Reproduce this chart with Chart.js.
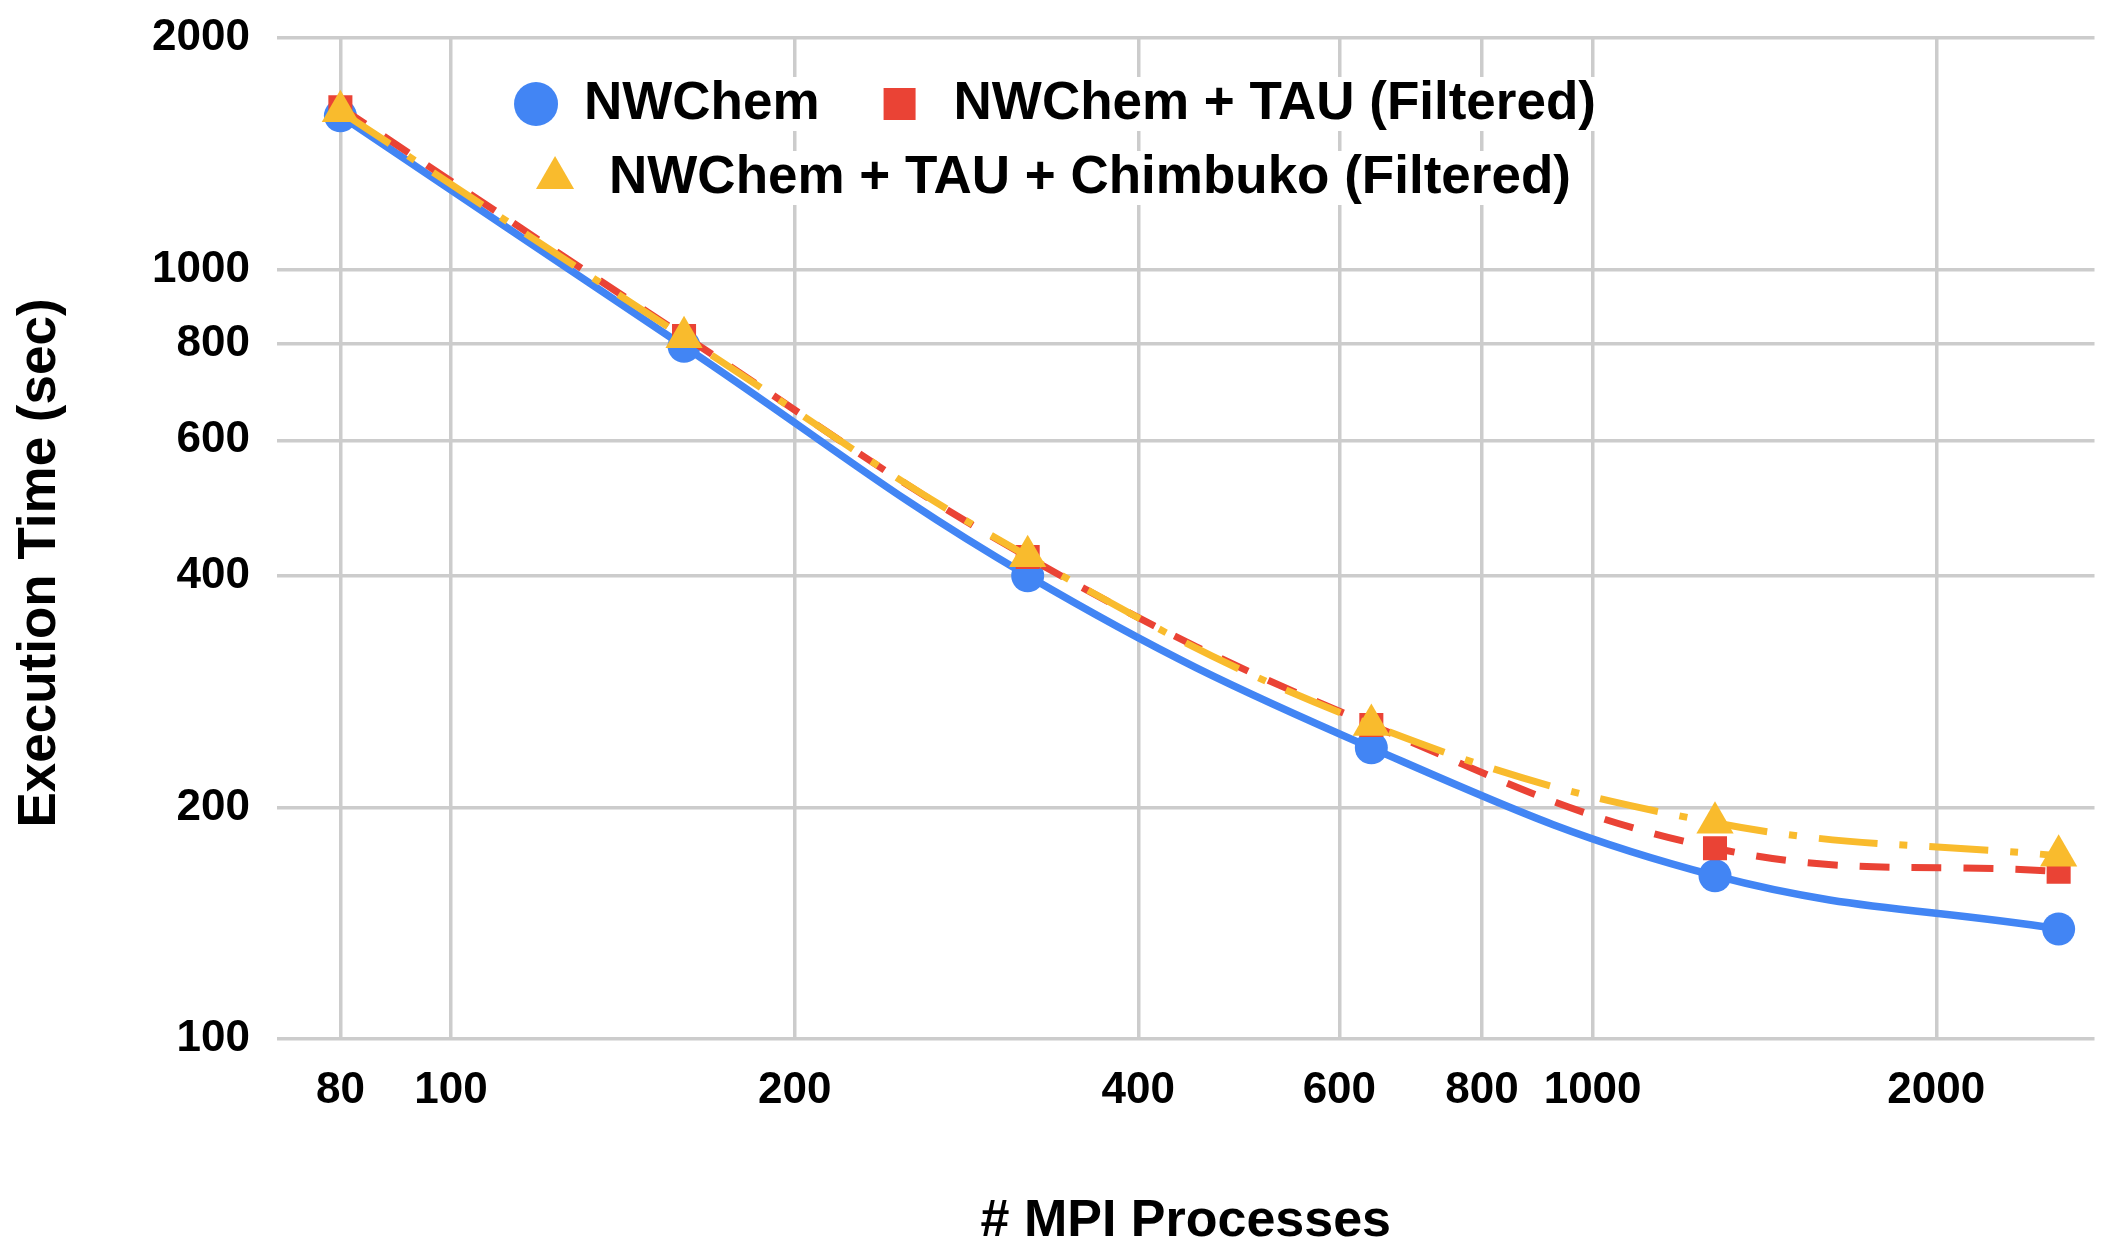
<!DOCTYPE html>
<html>
<head>
<meta charset="utf-8">
<script src="https://cdn.jsdelivr.net/npm/chart.js@4.4.0/dist/chart.umd.min.js"></script>
<style>
html,body{margin:0;padding:0;background:#ffffff;}
#wrap{width:2116px;height:1260px;position:relative;}
</style>
</head>
<body>
<div id="wrap"><canvas id="c"></canvas></div>
<script>
// ---- data ----
const processes = [80, 160, 320, 640, 1280, 2560];
const nwchem = [1585, 795, 400, 239, 163, 139];
const nwchemTau = [1625, 820, 423, 256, 177, 165];
const nwchemTauChimbuko = [1606, 817, 424, 256, 191, 173];
const seriesLabels = ['NWChem', 'NWChem + TAU (Filtered)', 'NWChem + TAU + Chimbuko (Filtered)'];
const xTickValues = [80, 100, 200, 400, 600, 800, 1000, 2000];
const yTickValues = [100, 200, 400, 600, 800, 1000, 2000];
const xTitle = '# MPI Processes';
const yTitle = 'Execution Time (sec)';

const BLUE = '#4285f4', RED = '#ea4335', YELLOW = '#f9bb2d';
const FONT = '"Liberation Sans", Arial, sans-serif';
Chart.defaults.font.family = FONT;
Chart.defaults.color = '#000';

const toPts = arr => processes.map((p, i) => ({x: p, y: arr[i]}));

const legendPlugin = {
  id: 'insideLegend',
  afterDraw(chart) {
    const ctx = chart.ctx;
    const ds = chart.data.datasets;
    const rows = [[0, 1], [2]];
    const rowY = [104, 178];
    const centerX = 1052;
    const box = 44, gap = 32, itemGap = 58;
    ctx.save();
    ctx.font = 'bold 53px ' + FONT;
    ctx.textBaseline = 'middle';
    ctx.textAlign = 'left';
    rows.forEach((row, ri) => {
      const widths = row.map(i => box + gap + ctx.measureText(ds[i].label).width);
      const total = widths.reduce((a, b) => a + b, 0) + itemGap * (row.length - 1);
      let x = centerX - total / 2;
      const y = rowY[ri];
      ctx.fillStyle = '#ffffff';
      ctx.fillRect(x + box, y - 27, total - box + 8, 54);
      row.forEach((i, k) => {
        const d = ds[i];
        const cx = x + box / 2;
        ctx.fillStyle = d.backgroundColor;
        ctx.beginPath();
        if (d.pointStyle === 'circle') {
          ctx.arc(cx + 6, y, 22, 0, Math.PI * 2);
        } else if (d.pointStyle === 'rect') {
          ctx.rect(cx - 16, y - 16, 32, 32);
        } else {
          const r = 22;
          ctx.moveTo(cx, y - r);
          ctx.lineTo(cx + r * Math.sin(2 * Math.PI / 3), y + r / 2);
          ctx.lineTo(cx - r * Math.sin(2 * Math.PI / 3), y + r / 2);
          ctx.closePath();
        }
        ctx.fill();
        ctx.fillStyle = '#000';
        ctx.fillText(d.label, x + box + gap, y);
        x += widths[k] + itemGap;
      });
    });
    ctx.restore();
  }
};

// y-axis title positioned like the reference (slightly below the plot centre)
const yTitlePlugin = {
  id: 'yTitle',
  afterDraw(chart) {
    const ctx = chart.ctx;
    ctx.save();
    ctx.font = 'bold 53px ' + FONT;
    ctx.fillStyle = '#000';
    ctx.textAlign = 'center';
    ctx.textBaseline = 'middle';
    ctx.translate(40, 563);
    ctx.rotate(-Math.PI / 2);
    ctx.fillText(yTitle, 0, 0);
    ctx.restore();
  }
};

const tickFont = {size: 44, weight: 'bold'};
const titleFont = {size: 52, weight: 'bold'};

new Chart(document.getElementById('c'), {
  type: 'line',
  data: {
    datasets: [
      {label: seriesLabels[0], data: toPts(nwchem), borderColor: BLUE, backgroundColor: BLUE,
       borderWidth: 7.5, pointStyle: 'circle', pointRadius: 16.5, pointBorderWidth: 0, pointHoverRadius: 16.5,
       tension: 0.4, order: 2},
      {label: seriesLabels[1], data: toPts(nwchemTau), borderColor: RED, backgroundColor: RED,
       borderWidth: 7, borderDash: [30, 22], pointStyle: 'rect', pointRadius: 17, pointBorderWidth: 0,
       pointHoverRadius: 17, tension: 0.4, order: 1},
      {label: seriesLabels[2], data: toPts(nwchemTauChimbuko), borderColor: YELLOW, backgroundColor: YELLOW,
       borderWidth: 7, borderDash: [59, 22, 8, 22], pointStyle: 'triangle', pointRadius: 21.5, pointBorderWidth: 0,
       pointHoverRadius: 21.5, tension: 0.4, order: 0}
    ]
  },
  options: {
    responsive: true,
    maintainAspectRatio: false,
    devicePixelRatio: 1,
    animation: false,
    events: [],
    layout: {padding: {top: 38, right: 21, left: 0, bottom: 0}},
    plugins: {legend: {display: false}, tooltip: {enabled: false}},
    scales: {
      x: {
        type: 'logarithmic', min: 70.4, max: 2752,
        afterBuildTicks: s => { s.ticks = xTickValues.map(v => ({value: v})); },
        afterFit: s => { s.height = 221; s.paddingLeft = 0; s.paddingRight = 0; },
        ticks: {callback: v => String(v), font: tickFont, color: '#000', padding: 25, maxRotation: 0, autoSkip: false},
        grid: {color: '#cccccc', lineWidth: 3.5, drawTicks: false},
        border: {display: false},
        title: {display: true, text: xTitle, font: titleFont, color: '#000', padding: {top: 0, bottom: 7}}
      },
      y: {
        type: 'logarithmic', min: 100, max: 2000,
        afterBuildTicks: s => { s.ticks = yTickValues.map(v => ({value: v})); },
        afterFit: s => { s.width = 277; s.paddingTop = 0; s.paddingBottom = 0; },
        ticks: {callback: v => String(v), font: tickFont, color: '#000', padding: 27, autoSkip: false},
        grid: {color: '#cccccc', lineWidth: 3.5, drawTicks: false},
        border: {display: false},
        title: {display: false, text: yTitle, font: titleFont, color: '#000'}
      }
    }
  },
  plugins: [legendPlugin, yTitlePlugin]
});
</script>
</body>
</html>
